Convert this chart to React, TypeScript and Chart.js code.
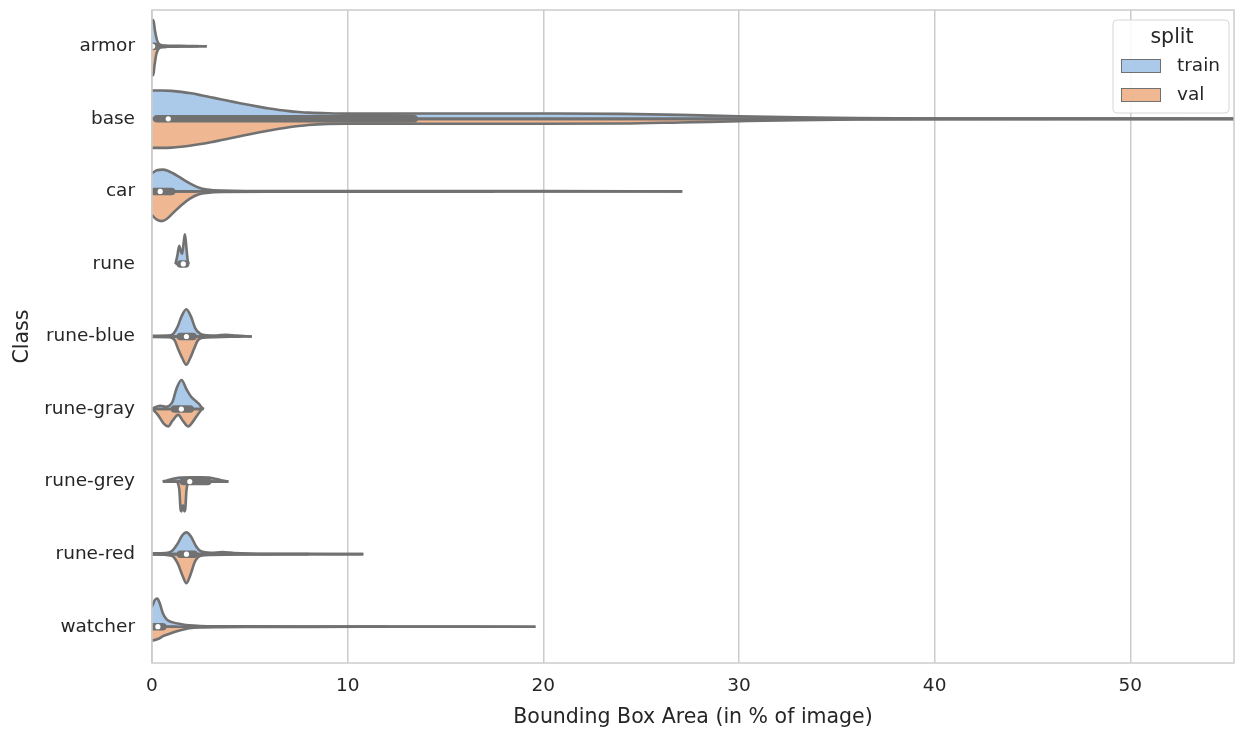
import React, { useEffect, useRef } from 'react';
import { Chart, registerables } from 'chart.js';

Chart.register(...registerables);

// ---------------- data ----------------
const classes = ['armor', 'base', 'car', 'rune', 'rune-blue', 'rune-gray', 'rune-grey', 'rune-red', 'watcher'];
const splits = ['train', 'val'];
const xTicks = [0, 10, 20, 30, 40, 50];

// density profiles: [x value, half-width in category units]
const armorTrain = [[-0.3, 0.3], [0, 0.33], [0.07, 0.36], [0.15, 0.22], [0.25, 0.09], [0.35, 0.035], [0.5, 0.015], [0.8, 0.008], [1.5, 0.005], [2.2, 0.003], [2.8, 0]];
const armorVal = [[-0.3, 0.36], [0, 0.38], [0.06, 0.4], [0.13, 0.26], [0.22, 0.11], [0.32, 0.04], [0.5, 0.015], [0.8, 0.007], [1.5, 0.004], [2.4, 0]];

const baseTrain = [[-0.5, 0.39], [0, 0.39], [0.5, 0.39], [1, 0.385], [1.5, 0.372], [2, 0.352], [2.5, 0.326], [3, 0.298], [3.5, 0.27], [4, 0.243], [4.5, 0.216], [5, 0.19], [5.5, 0.165], [6, 0.142], [6.5, 0.122], [7, 0.106], [7.5, 0.094], [8, 0.085], [9, 0.076], [10, 0.072], [12, 0.072], [16, 0.074], [20, 0.073], [24, 0.068], [27, 0.055], [30, 0.035], [33, 0.02], [36, 0.01], [40, 0.005], [57, 0.002]];
const baseVal = [[-0.5, 0.4], [0, 0.4], [0.5, 0.4], [1, 0.397], [1.5, 0.385], [2, 0.368], [2.5, 0.347], [3, 0.323], [3.5, 0.296], [4, 0.268], [4.5, 0.24], [5, 0.212], [5.5, 0.185], [6, 0.16], [6.5, 0.137], [7, 0.116], [7.5, 0.098], [8, 0.084], [9, 0.07], [10, 0.066], [12, 0.066], [16, 0.068], [20, 0.068], [24, 0.065], [27, 0.05], [30, 0.033], [33, 0.018], [36, 0.009], [40, 0.004], [57, 0.002]];

const carTrain = [[-0.3, 0.2], [0, 0.25], [0.25, 0.29], [0.55, 0.3], [0.8, 0.285], [1.07, 0.25], [1.5, 0.18], [1.94, 0.11], [2.4, 0.05], [2.8, 0.025], [3.6, 0.01], [5, 0.006], [8, 0.005], [14, 0.004], [20, 0.003], [27.1, 0]];
const carVal = [[-0.3, 0.28], [0, 0.33], [0.25, 0.39], [0.5, 0.41], [0.75, 0.38], [1.07, 0.3], [1.5, 0.19], [1.94, 0.1], [2.4, 0.04], [2.8, 0.02], [3.6, 0.008], [6, 0.005], [12, 0.004], [17.5, 0]];

const runeTrain = [[1.2, 0], [1.3, 0.12], [1.39, 0.25], [1.47, 0.18], [1.54, 0.14], [1.62, 0.3], [1.68, 0.41], [1.75, 0.25], [1.82, 0.06], [1.87, 0]];
const runeVal = null;

const runeBlueTrain = [[-0.3, 0.01], [0, 0.01], [0.8, 0.012], [1.1, 0.04], [1.3, 0.13], [1.5, 0.27], [1.75, 0.375], [2.0, 0.27], [2.2, 0.12], [2.45, 0.04], [2.8, 0.015], [3.3, 0.012], [3.8, 0.025], [4.3, 0.012], [5.1, 0]];
const runeBlueVal = [[-0.3, 0.005], [0, 0.005], [0.9, 0.008], [1.15, 0.05], [1.34, 0.175], [1.55, 0.3], [1.75, 0.39], [1.95, 0.3], [2.15, 0.17], [2.35, 0.05], [2.6, 0.015], [3.2, 0.008], [4, 0.004], [4.6, 0]];

const runeGrayTrain = [[0, 0.004], [0.2, 0.03], [0.44, 0.045], [0.7, 0.03], [0.9, 0.05], [1.05, 0.1], [1.25, 0.28], [1.51, 0.4], [1.75, 0.28], [2.0, 0.17], [2.2, 0.12], [2.4, 0.07], [2.55, 0.02], [2.65, 0]];
const runeGrayVal = [[0.02, 0], [0.3, 0.08], [0.6, 0.2], [0.83, 0.24], [1.05, 0.16], [1.34, 0.08], [1.6, 0.17], [1.85, 0.24], [2.1, 0.17], [2.35, 0.07], [2.55, 0]];

const runeGreyTrain = [[0.55, 0], [0.8, 0.02], [1.2, 0.045], [1.5, 0.055], [2.0, 0.06], [2.5, 0.06], [2.9, 0.055], [3.3, 0.035], [3.6, 0.015], [3.9, 0]];
const runeGreyVal = [[1.3, 0], [1.4, 0.12], [1.46, 0.38], [1.5, 0.41], [1.55, 0.34], [1.6, 0.33], [1.65, 0.41], [1.7, 0.38], [1.76, 0.12], [1.85, 0]];

const runeRedTrain = [[-0.3, 0.008], [0, 0.01], [0.7, 0.015], [1.0, 0.04], [1.3, 0.14], [1.55, 0.26], [1.76, 0.3], [2.0, 0.24], [2.25, 0.11], [2.5, 0.04], [3.0, 0.02], [3.6, 0.028], [4.2, 0.015], [5, 0.007], [6.5, 0.004], [10.8, 0]];
const runeRedVal = [[-0.3, 0.004], [0, 0.005], [1.0, 0.02], [1.3, 0.12], [1.55, 0.29], [1.76, 0.4], [1.97, 0.28], [2.2, 0.1], [2.5, 0.02], [3, 0.01], [4.5, 0.005], [6, 0.003], [8, 0]];

const watcherTrain = [[-0.3, 0.2], [0, 0.28], [0.15, 0.37], [0.27, 0.39], [0.4, 0.32], [0.55, 0.19], [0.75, 0.1], [1.07, 0.06], [1.5, 0.035], [1.9, 0.018], [2.5, 0.009], [3.5, 0.006], [5, 0.005], [8, 0.004], [13, 0.003], [19.6, 0]];
const watcherVal = [[-0.3, 0.17], [0, 0.19], [0.3, 0.17], [0.6, 0.125], [1.07, 0.08], [1.5, 0.045], [1.9, 0.022], [2.5, 0.01], [3.5, 0.006], [5, 0.004], [8, 0.003], [12, 0]];

const trainProfiles = [armorTrain, baseTrain, carTrain, runeTrain, runeBlueTrain, runeGrayTrain, runeGreyTrain, runeRedTrain, watcherTrain];
const valProfiles = [armorVal, baseVal, carVal, runeVal, runeBlueVal, runeGrayVal, runeGreyVal, runeRedVal, watcherVal];

// inner box statistics per class
const boxQ1 = [0.0, 0.25, 0.1, 1.45, 1.45, 1.15, 1.6, 1.45, 0.08];
const boxQ3 = [0.15, 13.4, 1.0, 1.72, 2.1, 1.95, 2.85, 2.15, 0.55];
const boxMedian = [0.03, 0.83, 0.42, 1.6, 1.76, 1.5, 1.93, 1.76, 0.3];
const whiskerLow = [0, 0, 0, 1.27, 1.0, 0.05, 0.6, 1.0, 0];
const whiskerHigh = [0.35, 57, 2.3, 1.85, 3.0, 2.6, 3.9, 3.0, 1.25];

// ---------------- styles ----------------
const splitColors = ['#abc9e9', '#efb792'];
const outline = '#717171';
const textColor = '#262626';
const gridColor = '#cccccc';
const FONT = "'DejaVu Sans', sans-serif";
const LW = 2.6;

function buildDatasets() {
  const ds: any[] = [];
  classes.forEach((c, i) => {
    const halves: [number[][] | null, number, string][] = [
      [trainProfiles[i], -1, splitColors[0]],
      [valProfiles[i], 1, splitColors[1]],
    ];
    halves.forEach(([prof, sign, color]) => {
      if (!prof) return;
      ds.push({
        type: 'line',
        label: `${c}-${sign < 0 ? 'train' : 'val'}`,
        data: prof.map(([x, w]) => ({ x, y: i + sign * w })),
        borderColor: outline,
        borderWidth: LW,
        backgroundColor: color,
        fill: { value: i },
        cubicInterpolationMode: 'monotone',
        pointRadius: 0,
        clip: 0,
        order: 5,
      });
    });
    const xs = [...(trainProfiles[i] || []), ...(valProfiles[i] || [])].map((p) => p[0]);
    ds.push({
      type: 'line',
      label: `${c}-center`,
      data: [{ x: Math.min(...xs), y: i }, { x: Math.max(...xs), y: i }],
      borderColor: outline,
      borderWidth: LW,
      fill: false,
      pointRadius: 0,
      clip: 0,
      order: 4,
    });
    ds.push({
      type: 'line',
      label: `${c}-whisker`,
      data: [{ x: whiskerLow[i], y: i }, { x: whiskerHigh[i], y: i }],
      borderColor: outline,
      borderWidth: LW,
      fill: false,
      pointRadius: 0,
      clip: 0,
      order: 3,
    });
    ds.push({
      type: 'line',
      label: `${c}-box`,
      data: [{ x: boxQ1[i], y: i }, { x: boxQ3[i], y: i }],
      borderColor: outline,
      borderWidth: 7.5,
      borderCapStyle: 'round',
      fill: false,
      pointRadius: 0,
      clip: 0,
      order: 2,
    });
  });
  ds.push({
    type: 'line',
    label: 'median',
    data: classes.map((_, i) => ({ x: boxMedian[i], y: i })),
    showLine: false,
    pointRadius: 2.6,
    pointBackgroundColor: '#ffffff',
    pointBorderWidth: 0,
    order: 1,
  });
  return ds;
}

const framePlugin = {
  id: 'frame',
  afterDatasetsDraw(chart: any) {
    const { ctx, chartArea: a } = chart;
    ctx.save();
    ctx.strokeStyle = gridColor;
    ctx.lineWidth = 1.5;
    ctx.strokeRect(a.left, a.top, a.right - a.left, a.bottom - a.top);
    ctx.restore();
  },
};

const legendPlugin = {
  id: 'splitLegend',
  afterDraw(chart: any) {
    const { ctx } = chart;
    ctx.save();
    const x = 1113, y = 20, w = 116, h = 93, r = 4;
    ctx.beginPath();
    ctx.moveTo(x + r, y);
    ctx.lineTo(x + w - r, y);
    ctx.arcTo(x + w, y, x + w, y + r, r);
    ctx.lineTo(x + w, y + h - r);
    ctx.arcTo(x + w, y + h, x + w - r, y + h, r);
    ctx.lineTo(x + r, y + h);
    ctx.arcTo(x, y + h, x, y + h - r, r);
    ctx.lineTo(x, y + r);
    ctx.arcTo(x, y, x + r, y, r);
    ctx.closePath();
    ctx.fillStyle = 'rgba(255,255,255,0.85)';
    ctx.fill();
    ctx.strokeStyle = '#d6d6d6';
    ctx.lineWidth = 1;
    ctx.stroke();

    ctx.fillStyle = textColor;
    ctx.textBaseline = 'middle';
    ctx.textAlign = 'center';
    ctx.font = `20.5px ${FONT}`;
    ctx.fillText('split', x + w / 2 + 1, y + 18);

    ctx.textAlign = 'left';
    ctx.font = `18.5px ${FONT}`;
    splits.forEach((s, k) => {
      const py = 59 + k * 29;
      ctx.fillStyle = splitColors[k];
      ctx.fillRect(1121, py, 39, 13);
      ctx.strokeStyle = outline;
      ctx.lineWidth = 1;
      ctx.strokeRect(1121.5, py + 0.5, 39, 13);
      ctx.fillStyle = textColor;
      ctx.fillText(s, 1177, py + 7);
    });
    ctx.restore();
  },
};

export default function App() {
  const ref = useRef<HTMLCanvasElement>(null);
  useEffect(() => {
    document.body.style.margin = '0';
    const canvas = ref.current;
    if (!canvas) return;
    const chart = new Chart(canvas, {
      type: 'line',
      data: { datasets: buildDatasets() },
      plugins: [framePlugin, legendPlugin],
      options: {
        animation: false,
        responsive: false,
        devicePixelRatio: 1,
        events: [],
        layout: { padding: { left: 0, top: 10, right: 1, bottom: 0 } },
        elements: { point: { radius: 0 }, line: { capBezierPoints: false, tension: 0 } },
        plugins: { legend: { display: false }, tooltip: { enabled: false } },
        scales: {
          x: {
            type: 'linear',
            min: 0,
            max: 55.3,
            afterBuildTicks: (s: any) => {
              s.ticks = xTicks.map((v) => ({ value: v }));
            },
            afterFit: (s: any) => {
              s.height = 68;
              s.paddingLeft = 0;
              s.paddingRight = 0;
            },
            grid: { color: gridColor, lineWidth: 1.5, drawTicks: false },
            border: { display: false },
            ticks: { color: textColor, font: { family: FONT, size: 18.5 }, padding: 12, maxRotation: 0 },
            title: {
              display: true,
              text: 'Bounding Box Area (in % of image)',
              color: textColor,
              font: { family: FONT, size: 20.5 },
              padding: { top: 0, bottom: 1 },
            },
          },
          y: {
            type: 'linear',
            min: -0.5,
            max: 8.5,
            reverse: true,
            afterBuildTicks: (s: any) => {
              s.ticks = classes.map((_, i) => ({ value: i }));
            },
            afterFit: (s: any) => {
              s.width = 152;
              s.paddingTop = 0;
              s.paddingBottom = 0;
            },
            grid: { display: false, drawTicks: false },
            border: { display: false },
            ticks: {
              color: textColor,
              font: { family: FONT, size: 18.5 },
              padding: 17,
              callback: (v: any) => classes[Math.round(Number(v))] ?? '',
            },
            title: {
              display: true,
              text: 'Class',
              color: textColor,
              font: { family: FONT, size: 20.5 },
              padding: { top: 10, bottom: 0 },
            },
          },
        },
      } as any,
    });
    return () => chart.destroy();
  }, []);
  return (
    <div style={{ width: 1238, height: 731 }}>
      <canvas ref={ref} width={1238} height={731} style={{ display: 'block', width: 1238, height: 731 }} />
    </div>
  );
}
